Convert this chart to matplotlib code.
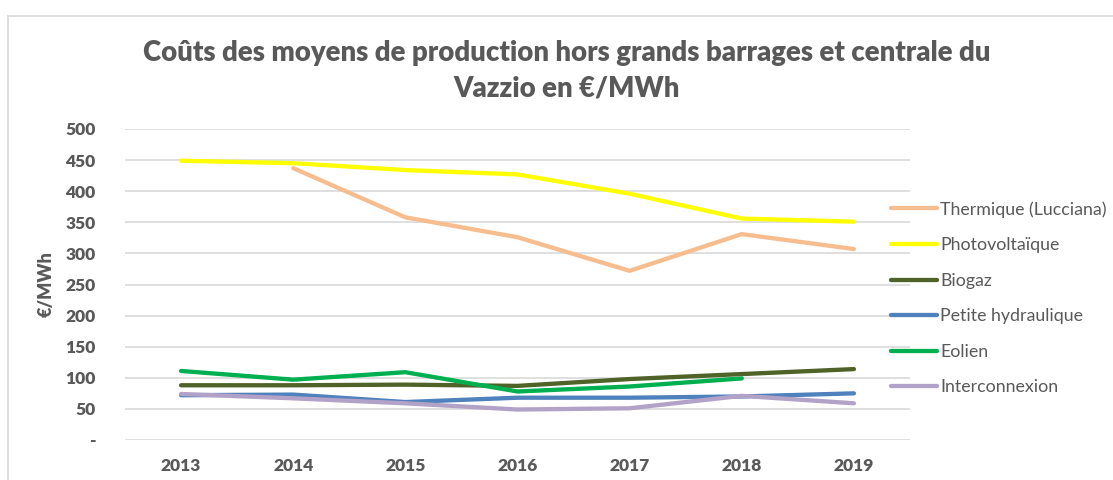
import matplotlib
matplotlib.use("Agg")
import matplotlib.pyplot as plt
from matplotlib.lines import Line2D
import numpy as np

plt.rcParams['font.family'] = ['Lato', 'DejaVu Sans']

years = ['2013', '2014', '2015', '2016', '2017', '2018', '2019']
thermique = [np.nan, 437, 358, 326, 272, 331, 307]
photovoltaique = [449, 445, 434, 427, 396, 356, 351]
biogaz = [88, 88, 89, 87, 98, 106, 114]
petite_hydraulique = [72, 73, 61, 68, 68, 70, 75]
eolien = [111, 97, 109, 78, 86, 99, np.nan]
interconnexion = [74, 67, 59, 49, 51, 71, 59]

labels = ['Thermique (Lucciana)', 'Photovoltaïque', 'Biogaz',
          'Petite hydraulique', 'Eolien', 'Interconnexion']
colors = ['#F8BD8E', '#FFFF00', '#4F6228', '#4F81BD', '#00B050', '#B3A2C7']
series = [thermique, photovoltaique, biogaz, petite_hydraulique, eolien, interconnexion]

W, H = 1113, 480
fig = plt.figure(figsize=(W / 100, H / 100), dpi=100)
txt = '#595959'

# chart border (top and left visible)
fig.add_artist(Line2D([8 / W, 1], [1 - 16 / H, 1 - 16 / H], color='#D9D9D9', lw=1.2))
fig.add_artist(Line2D([8 / W, 8 / W], [0, 1 - 16 / H], color='#D9D9D9', lw=1.2))

ax = fig.add_axes([125 / W, 1 - 440 / H, (910 - 125) / W, (440 - 129) / H])
x = np.arange(len(years))
for s, c in zip(series, colors):
    ax.plot(x, s, color=c, lw=3.1, solid_capstyle='round', solid_joinstyle='round')

ax.set_xlim(-0.5, len(years) - 0.5)
ax.set_ylim(0, 500)
ax.set_yticks(np.arange(0, 501, 50))
ax.set_yticklabels(['-'] + [str(v) for v in range(50, 501, 50)])
ax.set_xticks(x)
ax.set_xticklabels(years)
for sp in ax.spines.values():
    sp.set_visible(False)
ax.grid(axis='y', color='#D9D9D9', lw=1.2)
ax.set_axisbelow(True)
ax.tick_params(length=0, colors=txt, labelsize=12.5, pad=13)
ax.tick_params(axis='y', pad=21)
for t in ax.get_xticklabels() + ax.get_yticklabels():
    t.set_fontweight('heavy')
    t.set_color(txt)
ax.set_ylabel('€/MWh', fontsize=13, fontweight='heavy', color=txt, labelpad=8)

fig.text(567 / W, 1 - 53 / H, 'Coûts des moyens de production hors grands barrages et centrale du',
         ha='center', va='center', fontsize=19.8, fontweight='heavy', color=txt)
fig.text(567 / W, 1 - 89 / H, 'Vazzio en €/MWh',
         ha='center', va='center', fontsize=19.8, fontweight='heavy', color=txt)

handles = [Line2D([], [], color=c, lw=3.1, solid_capstyle='round') for c in colors]
fig.legend(handles, labels, loc='upper left', bbox_to_anchor=(884 / W, 1 - 194 / H),
           frameon=False, fontsize=12.8, labelcolor=txt, handlelength=2.6,
           handletextpad=0.15, labelspacing=1.1, borderaxespad=0)

fig.savefig('out.png', dpi=100)
